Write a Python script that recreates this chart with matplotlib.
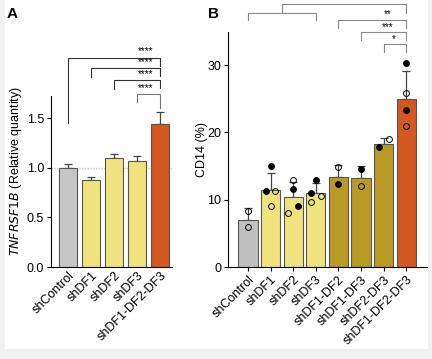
import matplotlib
matplotlib.use("Agg")
import matplotlib.pyplot as plt
from matplotlib.patches import Rectangle
import numpy as np

plt.rcParams['font.family'] = ['Liberation Sans', 'DejaVu Sans']
plt.rcParams['font.size'] = 9

# panel A data
a_labels = ["shControl", "shDF1", "shDF2", "shDF3", "shDF1-DF2-DF3"]
a_means = [1.00, 0.88, 1.10, 1.07, 1.44]
a_err = [0.04, 0.03, 0.04, 0.05, 0.12]
a_colors = ["#c6c6c6", "#f0e27c", "#f0e27c", "#f0e27c", "#d4581f"]
a_stars = ["****", "****", "****", "****"]

# panel B data
b_labels = ["shControl", "shDF1", "shDF2", "shDF3", "shDF1-DF2",
            "shDF1-DF3", "shDF2-DF3", "shDF1-DF2-DF3"]
b_means = [7.0, 11.4, 10.4, 11.0, 13.4, 13.2, 18.3, 25.0]
b_err = [1.8, 2.6, 2.3, 1.5, 1.8, 1.8, 0.9, 4.1]
b_colors = ["#c0c0c0", "#f0e27c", "#f0e27c", "#f0e27c",
            "#b99a24", "#b99a24", "#b99a24", "#d4581f"]
# points: (bar index, x offset, value, filled)
b_pts = [
    (0, 0.0, 8.3, False), (0, 0.0, 6.0, False),
    (1, 0.0, 15.0, True), (1, -0.22, 11.3, True), (1, 0.22, 11.3, False), (1, 0.0, 9.0, False),
    (2, 0.0, 13.0, False), (2, 0.0, 11.6, True), (2, 0.22, 9.1, True), (2, -0.22, 8.1, False),
    (3, 0.0, 13.0, True), (3, -0.22, 11.0, True), (3, -0.22, 9.7, False), (3, 0.22, 10.6, False),
    (4, 0.0, 14.8, False), (4, 0.0, 12.3, True),
    (5, 0.0, 14.6, True), (5, 0.0, 12.1, False),
    (6, -0.22, 17.9, True), (6, 0.22, 19.0, False),
    (7, 0.0, 30.4, True), (7, 0.0, 25.9, False), (7, 0.0, 23.3, True), (7, 0.0, 21.0, False),
]

fig = plt.figure(figsize=(4.32, 3.59), dpi=100, facecolor="#f0f0f0")
fig.patches.append(Rectangle((5 / 432, 1 - 349 / 359), 423 / 432, 349 / 359,
                             transform=fig.transFigure, facecolor="white",
                             edgecolor="none", zorder=-5))

axA = fig.add_axes([51 / 432, 1 - 267 / 359, 121 / 432, 267 / 359])
axB = fig.add_axes([228 / 432, 1 - 267 / 359, 199 / 432, 267 / 359])

for ax in (axA, axB):
    ax.patch.set_alpha(0)
    ax.spines['top'].set_visible(False)
    ax.spines['right'].set_visible(False)
    ax.tick_params(length=3, width=0.8, pad=2)

# ---- A ----
xa = np.arange(len(a_labels))
axA.axhline(1.0, color="#cccccc", lw=1, ls=(0, (1, 1)), zorder=0)
axA.bar(xa, a_means, 0.78, color=a_colors, edgecolor="#555555", lw=0.8, zorder=2)
axA.errorbar(xa, a_means, yerr=[np.zeros(len(xa)), a_err], fmt="none",
             ecolor="#444444", elinewidth=0.9, capsize=3, capthick=0.9, zorder=1)
axA.set_xlim(-0.74, 4.52)
axA.set_ylim(0, 2.69)
axA.spines['left'].set_bounds(0, 1.72)
axA.set_yticks([0, 0.5, 1.0, 1.5])
axA.set_yticklabels(["0.0", "0.5", "1.0", "1.5"])
axA.set_xticks(xa)
axA.set_xticklabels(a_labels, rotation=45, ha="right", rotation_mode="anchor")
axA.tick_params(axis='x', length=0)
axA.set_ylabel(r"$\it{TNFRSF1B}$ (Relative quantity)")
axA.yaxis.set_label_coords(-0.22, 0.36)

# brackets A: (left bar, y level, left drop, right drop)
a_br = [(0, 2.11, 1.45, 2.03), (1, 2.00, 1.91, 1.92), (2, 1.88, 1.79, 1.80), (3, 1.74, 1.66, 1.60)]
for (i, y, yl, yr), s in zip(a_br, a_stars):
    c = "#333333" if i < 3 else "#777777"
    axA.plot([i, i, 4, 4], [yl, y, y, yr], color=c, lw=0.8, clip_on=False)
    axA.text(3.35, y + 0.01, s, ha="center", va="bottom", fontsize=7)

# ---- B ----
xb = np.arange(len(b_labels))
axB.bar(xb, b_means, 0.85, color=b_colors, edgecolor="#555555", lw=0.8, zorder=2)
axB.errorbar(xb, b_means, yerr=[np.zeros(len(xb)), b_err], fmt="none",
             ecolor="#444444", elinewidth=0.9, capsize=3, capthick=0.9, zorder=1)
for i, dx, v, filled in b_pts:
    axB.plot(i + dx, v, "o", ms=4.2, mec="black", mew=0.7,
             mfc="black" if filled else "none", zorder=4)
axB.set_xlim(-0.88, 7.92)
axB.set_ylim(0, 39.7)
axB.spines['left'].set_bounds(0, 34.9)
axB.set_yticks([0, 10, 20, 30])
axB.set_xticks(xb)
axB.set_xticklabels(b_labels, rotation=45, ha="right", rotation_mode="anchor")
axB.set_ylabel("CD14 (%)")
axB.yaxis.set_label_coords(-0.10, 0.44)

bc = "#888888"
# group bracket shControl..shDF3
axB.plot([0, 0, 3, 3], [36.7, 37.7, 37.7, 36.7], color=bc, lw=0.8, clip_on=False)
axB.plot([1.5, 1.5, 7, 7], [37.7, 39.1, 39.1, 37.7], color=bc, lw=0.8, clip_on=False)
axB.text(4.25, 38.9, "****", ha="center", va="bottom", fontsize=7, clip_on=False)
b_br = [(4, 36.7, 35.6, "**", 6.2), (5, 34.9, 33.8, "***", 6.2), (6, 33.1, 31.9, "*", 6.45)]
for i, y, yd, s, xs in b_br:
    axB.plot([i, i, 7, 7], [yd, y, y, yd], color=bc, lw=0.8, clip_on=False)
    axB.text(xs, y + 0.1, s, ha="center", va="bottom", fontsize=7)

fig.text(7 / 432, 1 - 14 / 359, "A", fontsize=11, fontweight="bold", va="center")
fig.text(208 / 432, 1 - 14 / 359, "B", fontsize=11, fontweight="bold", va="center")

fig.savefig("out.png", dpi=100, facecolor=fig.get_facecolor())
